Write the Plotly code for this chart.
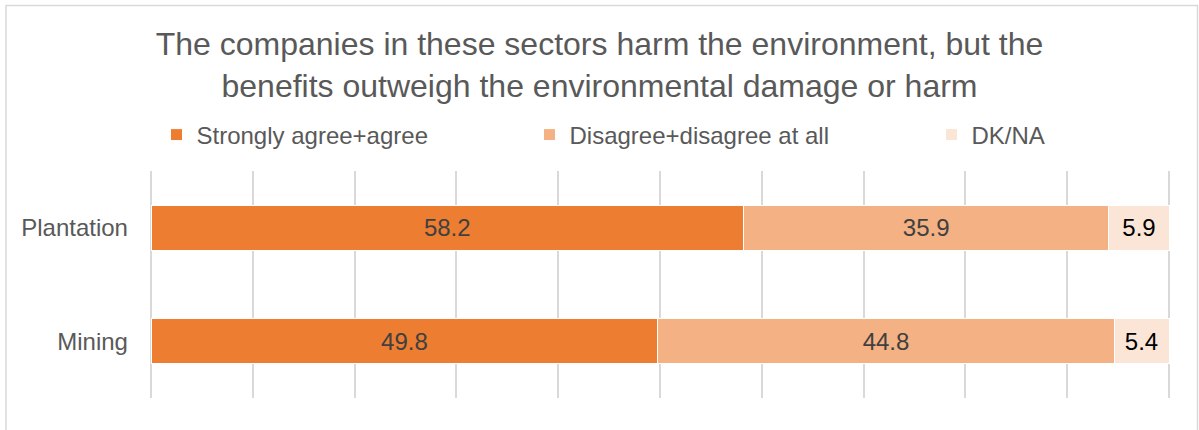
import plotly.graph_objects as go

categories = ["Mining", "Plantation"]
series_names = ["Strongly agree+agree", "Disagree+disagree at all", "DK/NA"]
agree = [49.8, 58.2]
disagree = [44.8, 35.9]
dkna = [5.4, 5.9]
x_ticks = [0, 10, 20, 30, 40, 50, 60, 70, 80, 90, 100]
title_text = "The companies in these sectors harm the environment, but the<br>benefits outweigh the environmental damage or harm"

colors = ["#ED7D31", "#F4B183", "#FBE5D6"]
label_colors = ["#404040", "#404040", "#000000"]
legend_ids = ["legend", "legend2", "legend3"]
legend_left_px = [156.5, 529.5, 931.5]
FONT = "Liberation Sans, Arial, sans-serif"

fig = go.Figure()
for name, vals, c, lc, lg in zip(series_names, [agree, disagree, dkna], colors, label_colors, legend_ids):
    fig.add_trace(go.Bar(
        y=categories, x=vals, name=name, orientation="h",
        marker=dict(color=c, line=dict(color="#FFFFFF", width=1)),
        text=vals, texttemplate="%{x:.1f}", textposition="inside",
        insidetextanchor="middle", textangle=0,
        textfont=dict(family=FONT, size=24, color=lc),
        hoverinfo="skip", legend=lg,
    ))

W, H = 1199, 430
L, R, T, B = 10, 10, 171, 32
pw, ph = W - L - R, H - T - B

def px_x(p):
    return (p - L) / pw

def px_y(p):
    return (H - B - p) / ph

# data range slightly padded so gridlines at 0 and 100 are drawn
X0, X1 = -0.1, 100.1
unit = (1169 - 151) / 100.0
dom_left = 151 + X0 * unit
dom_right = 151 + X1 * unit

legends = {}
for lg, lx in zip(legend_ids, legend_left_px):
    legends[lg] = dict(orientation="h", x=px_x(lx), xanchor="left", y=px_y(135), yanchor="middle",
                       font=dict(size=24, color="#595959"), bgcolor="rgba(0,0,0,0)")

fig.update_layout(
    width=W, height=H,
    barmode="stack", bargap=0.6,
    margin=dict(l=L, r=R, t=T, b=B, autoexpand=False),
    paper_bgcolor="#FFFFFF", plot_bgcolor="#FFFFFF",
    font=dict(family=FONT, size=24, color="#595959"),
    title=dict(text=title_text, x=0.5, xanchor="center", y=0.871, yanchor="middle",
               font=dict(size=32, color="#595959")),
    xaxis=dict(domain=[px_x(dom_left), px_x(dom_right)], range=[X0, X1], tickvals=x_ticks,
               showticklabels=False, showgrid=True, gridcolor="#D9D9D9", gridwidth=1.5,
               zeroline=False, showline=False, fixedrange=True),
    yaxis=dict(categoryorder="array", categoryarray=categories, showgrid=False, zeroline=False,
               showline=False, ticks="", ticklabelstandoff=21, automargin=False,
               tickfont=dict(size=24, color="#595959"), fixedrange=True),
    showlegend=True,
    **legends,
)

fig.add_shape(type="rect", xref="paper", yref="paper",
              x0=px_x(6), x1=px_x(1197.5), y0=px_y(445), y1=px_y(5.5),
              line=dict(color="#D9D9D9", width=1.5), fillcolor="rgba(0,0,0,0)", layer="below")

fig.write_html("out.html", config={"displayModeBar": False},
               post_script="document.body.style.margin='0';")
